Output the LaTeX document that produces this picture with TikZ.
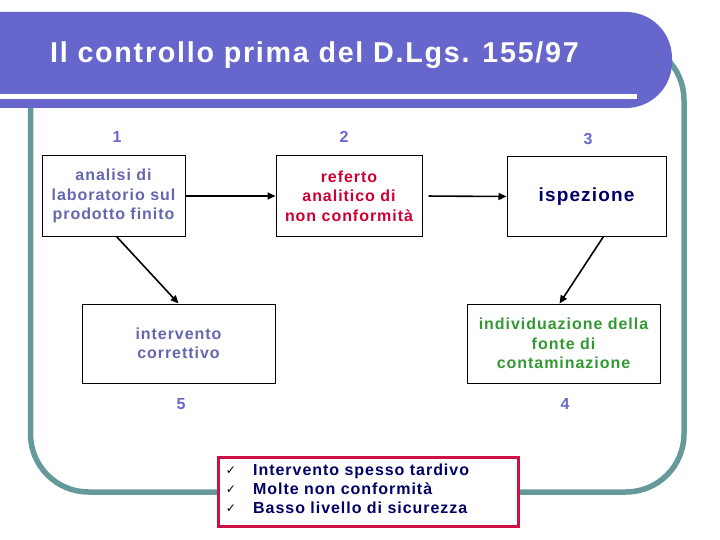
\documentclass[tikz,border=0pt]{standalone}
\usepackage{fontspec}
\setmainfont{Liberation Sans}
\newfontfamily\af[LetterSpace=6]{Liberation Sans}
\newfontfamily\sym{DejaVu Sans}
\usetikzlibrary{arrows.meta}
\definecolor{hdrblue}{HTML}{6666CC}
\definecolor{frameteal}{HTML}{669999}
\definecolor{numblue}{HTML}{6666CC}
\definecolor{slate}{HTML}{6666B0}
\definecolor{crim}{HTML}{CC0033}
\definecolor{navy}{HTML}{000066}
\definecolor{grn}{HTML}{339933}
\definecolor{redbox}{HTML}{CC1144}
\tikzset{
  stepbox/.style={draw=black, line width=1pt, fill=white, inner sep=2pt, align=center,
    font=\af\bfseries\fontsize{16}{19.5}\selectfont},
  numlabel/.style={inner sep=0pt, text=numblue, font=\af\bfseries\fontsize{16}{19}\selectfont},
  arr/.style={draw=black, line width=1.6pt, -{Triangle[length=8pt,width=7pt]}},
}
\begin{document}
\begin{tikzpicture}[x=1pt,y=-1pt]
\useasboundingbox (0,0) rectangle (720,540);
% teal frame
\draw[frameteal, line width=5.5pt, rounded corners=58pt] (30.5,42) rectangle (684,492);
% header
\fill[hdrblue] (0,12) [rounded corners=46pt] -- (672,12) -- (672,108) [sharp corners] -- (0,108) -- cycle;
\draw[white, line width=4.5pt] (0,96.5) -- (637,96.5);
\node[anchor=base west, inner sep=0pt, text=white, font=\af\bfseries\fontsize{28.7}{30}\selectfont] (title) at (50,63) {Il controllo prima del D.Lgs. 155/97};
% step boxes
\node[stepbox, minimum width=143pt, minimum height=80pt, text=slate] (b1) at (113.5,196) {analisi di\\laboratorio sul\\prodotto finito};
\node[stepbox, minimum width=146pt, minimum height=80pt, text=crim] (b2) at (349,196) {referto\\analitico di\\non conformità};
\node[stepbox, minimum width=159pt, minimum height=79pt, text=navy, font=\af\bfseries\fontsize{19}{22}\selectfont] (b3) at (586.5,196.5) {ispezione};
\node[stepbox, minimum width=193pt, minimum height=79pt, text=grn] (b4) at (563.5,343.5) {individuazione della\\fonte di\\contaminazione};
\node[stepbox, minimum width=193pt, minimum height=79pt, text=slate] (b5) at (178.5,343.5) {intervento\\correttivo};
% numbers
\node[numlabel] (n1) at (117,137) {1};
\node[numlabel] (n2) at (344,137) {2};
\node[numlabel] (n3) at (588,139) {3};
\node[numlabel] (n4) at (565,404) {4};
\node[numlabel] (n5) at (181,404) {5};
% arrows
\draw[arr] (b1.east) -- (b2.west);
\draw[arr, shorten <=6pt] (b2.east) -- (b3.west);
\draw[arr] ([xshift=3pt]b1.south) -- (b5.north);
\draw[arr] ([xshift=17pt]b3.south) -- ([xshift=-4pt]b4.north);
% checklist
\node[draw=redbox, line width=3pt, fill=white, minimum width=300pt, minimum height=69pt, inner sep=0pt] (chk) at (368,491.5) {};
\node[anchor=west, inner sep=0pt, text=navy, align=left, font=\af\bfseries\fontsize{16}{19}\selectfont] (chktext) at (253,489) {Intervento spesso tardivo\\Molte non conformità\\Basso livello di sicurezza};
\node[anchor=center, inner sep=0pt, align=left, font=\sym\fontsize{12}{19}\selectfont] (marks) at (231,489.5) {✓\\✓\\✓};
\end{tikzpicture}
\end{document}
